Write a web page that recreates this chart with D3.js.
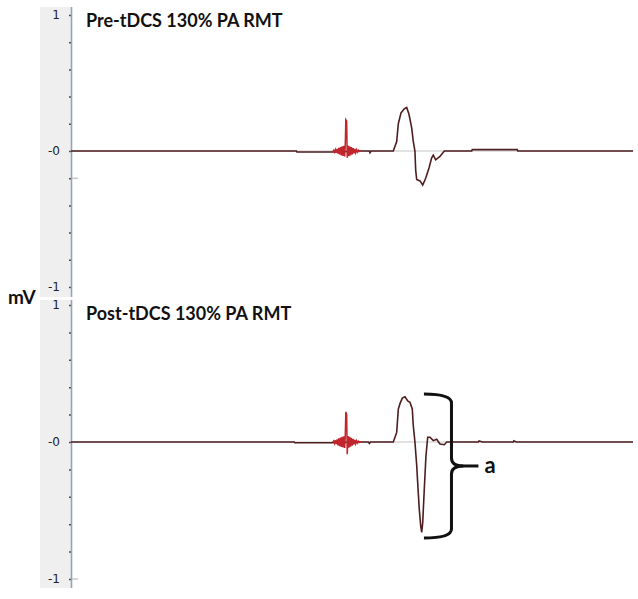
<!DOCTYPE html>
<html>
<head>
<meta charset="utf-8">
<script src="https://cdn.jsdelivr.net/npm/d3@7"></script>
<style>
  body { margin: 0; background: #fff; }
  svg { display: block; }
</style>
</head>
<body>
<script>
// MEP traces, pre / post tDCS
// time in ms (stimulus at 0), amplitude in mV

var panelTitles = ['Pre-tDCS 130% PA RMT', 'Post-tDCS 130% PA RMT'];
var tickValues = [-1, -0.8, -0.6, -0.4, -0.2, 0, 0.2, 0.4, 0.6, 0.8, 1];
var tickLabels = { '-1': '-1', '0': '-0', '1': '1' };

// stimulus artifact (fast ringing)
var artT = [-2.4, -2.25, -2.1, -1.95, -1.8, -1.65, -1.5, -1.35, -1.2, -1.05, -0.9, -0.75, -0.6, -0.45, -0.3, -0.2,
  -0.1, 0.05, 0.15, 0.3, 0.45, 0.6, 0.75, 0.9, 1.05, 1.2, 1.35, 1.5, 1.65, 1.8, 1.95, 2.1, 2.25, 2.4, 2.6];
var preArtMv = [0, 0.006, -0.008, 0.01, -0.013, 0.016, -0.02, 0.023, -0.026, 0.029, -0.032, 0.034, -0.036, 0.038, -0.04, 0.04,
  0.23, 0.22, -0.05, 0.04, -0.038, 0.035, -0.032, 0.028, -0.025, 0.021, -0.018, 0.015, -0.012, 0.009, -0.007, 0.005, -0.004, 0.003, 0];
var postArtMv = [0, 0.008, -0.01, 0.013, -0.016, 0.02, -0.024, 0.027, -0.03, 0.033, -0.036, 0.038, -0.04, 0.042, -0.044, 0.044,
  0.22, 0.2, -0.09, 0.044, -0.042, 0.038, -0.034, 0.03, -0.026, 0.022, -0.018, 0.015, -0.012, 0.009, -0.007, 0.005, -0.004, 0.003, 0];

// main traces
var preT = [-49, -8.9, -8.8, -2.4, 2.6, 4.1, 4.2, 4.4, 8.35, 8.95, 9.24, 9.72, 10.3, 10.73, 11.14, 11.62, 11.9, 12.2,
  12.33, 12.51, 13.1, 13.58, 14.11, 14.7, 15.18, 15.46, 15.89, 16.65, 17.42, 22.3, 22.4, 30.4, 30.5, 51];
var preMv = [0, 0, -0.007, -0.007, 0, 0, -0.012, 0, 0, 0.07, 0.2, 0.28, 0.31, 0.32, 0.27, 0.17, 0.07, 0,
  -0.14, -0.21, -0.22, -0.25, -0.2, -0.125, -0.05, -0.03, -0.065, -0.04, 0, 0, 0.01, 0.01, 0, 0];

var postT = [-49, -9.3, -9.2, -2.9, 2.4, 3.9, 4.1, 4.3, 8.35, 8.95, 9.24, 9.54, 9.95, 10.43, 10.91, 11.32, 11.73, 11.9,
  12.2, 12.51, 12.79, 12.97, 13.22, 13.4, 13.58, 13.86, 14.16, 14.47, 14.88, 15.46, 16.07, 16.65, 17.42, 17.85,
  23.5, 23.6, 24.2, 29.7, 29.8, 30.2, 51];
var postMv = [0, 0, -0.006, -0.006, 0, 0, -0.01, 0, 0, 0.07, 0.24, 0.28, 0.32, 0.33, 0.3, 0.29, 0.24, 0.12,
  0, -0.17, -0.37, -0.49, -0.61, -0.66, -0.59, -0.345, -0.1, 0.035, 0.035, 0.01, 0.02, -0.015, -0.02, 0,
  0, 0.008, 0, 0, 0.008, 0, 0];

// cursor marks right of the axis
var cursorMv = [-0.2, -1];

// peak-to-peak brace on the post trace
var braceMv = [0.35, -0.7];
var braceT = [13.8, 18.7, 20.8, 23.5]; // arm end, spine, nose, label line end
var braceLabel = 'a';

//Sizing things.
var width = 638, height = 599;
var axisX = 71, rightX = 633;

var svg = d3.select('body').append('svg')
  .attr('width', width)
  .attr('height', height);

var x = d3.scaleLinear().domain([-49, 51]).range([axisX, rightX]);

var panels = [
  { title: panelTitles[0], t: preT, mv: preMv, art: preArtMv, top: 15, bottom: 287, stripTop: 7, stripBottom: 297, titleY: 27, cursor: cursorMv[0] },
  { title: panelTitles[1], t: postT, mv: postMv, art: postArtMv, top: 305, bottom: 579, stripTop: 300, stripBottom: 588, titleY: 320, cursor: cursorMv[1] }
];

panels.forEach(function (p, i) {
  var y = d3.scaleLinear().domain([-1, 1]).range([p.bottom, p.top]);
  var g = svg.append('g').classed('panel_' + i, true);

  // gray strip behind axis
  g.append('rect')
    .attr('x', 40).attr('y', p.stripTop)
    .attr('width', axisX - 40).attr('height', p.stripBottom - p.stripTop)
    .attr('fill', '#efefef');

  // zero line
  g.append('line')
    .attr('x1', axisX).attr('x2', rightX)
    .attr('y1', y(0)).attr('y2', y(0))
    .attr('stroke', '#c4c4c4').attr('stroke-width', 1);

  // axis
  var axis = d3.axisLeft(y)
    .tickValues(tickValues)
    .tickSize(2)
    .tickSizeOuter(0)
    .tickPadding(9)
    .tickFormat(function (d) { var k = String(Math.round(d * 10) / 10); return tickLabels[k] || ''; });

  var ag = g.append('g')
    .attr('transform', 'translate(' + axisX + ',0)')
    .call(axis);
  ag.select('.domain').remove();
  ag.selectAll('.tick line').attr('stroke', '#444').attr('stroke-width', 1.5);
  ag.selectAll('.tick text')
    .style('font-family', 'DejaVu Sans')
    .style('font-size', '12px')
    .attr('fill', '#222');

  g.append('line')
    .attr('x1', axisX + 0.5).attr('x2', axisX + 0.5)
    .attr('y1', p.stripTop).attr('y2', p.stripBottom)
    .attr('stroke', '#98a2b4').attr('stroke-width', 1.6);

  g.append('line')
    .attr('x1', axisX + 1).attr('x2', axisX + 7)
    .attr('y1', y(p.cursor)).attr('y2', y(p.cursor))
    .attr('stroke', '#b0b0b0').attr('stroke-width', 1);

  // trace
  var line = d3.line()
    .x(function (d) { return x(d[0]); })
    .y(function (d) { return y(d[1]); });

  g.append('path')
    .datum(d3.zip(p.t, p.mv))
    .attr('d', line)
    .attr('fill', 'none')
    .attr('stroke', '#4e1d20')
    .attr('stroke-width', 1.6)
    .attr('stroke-linejoin', 'miter');

  g.append('path')
    .datum(d3.zip(artT, p.art))
    .attr('d', line)
    .attr('fill', 'none')
    .attr('stroke', '#c1262c')
    .attr('stroke-width', 1.5);

  g.append('text')
    .attr('x', 86).attr('y', p.titleY)
    .style('font-family', 'Lato')
    .style('font-weight', 'bold')
    .style('font-size', '18px')
    .attr('fill', '#111')
    .text(p.title);

  if (i === 1) {
    // brace marking the peak-to-peak amplitude
    var yt = y(braceMv[0]), yb = y(braceMv[1]), ym = (yt + yb) / 2;
    var x0 = x(braceT[0]), x1 = x(braceT[1]), xn = x(braceT[2]), xe = x(braceT[3]);
    var path = d3.path();
    path.moveTo(x0, yt);
    path.quadraticCurveTo(x1, yt, x1, yt + 9);
    path.lineTo(x1, ym - 8);
    path.quadraticCurveTo(x1, ym, xn, ym);
    path.quadraticCurveTo(x1, ym, x1, ym + 8);
    path.lineTo(x1, yb - 9);
    path.quadraticCurveTo(x1, yb, x0, yb);
    g.append('path')
      .attr('d', path.toString())
      .attr('fill', 'none')
      .attr('stroke', '#111')
      .attr('stroke-width', 3);
    g.append('line')
      .attr('x1', xn - 2).attr('x2', xe)
      .attr('y1', ym).attr('y2', ym)
      .attr('stroke', '#111').attr('stroke-width', 3);
    g.append('text')
      .attr('x', xe + 6).attr('y', ym + 7)
      .style('font-family', 'Lato')
      .style('font-weight', 'bold')
      .style('font-size', '22px')
      .attr('fill', '#111')
      .text(braceLabel);
  }
});

// shared unit label
svg.append('rect')
  .attr('x', 0).attr('y', 297).attr('width', 71).attr('height', 3)
  .attr('fill', '#fff');
svg.append('text')
  .attr('x', 8).attr('y', 304)
  .style('font-family', 'Lato')
  .style('font-weight', 'bold')
  .style('font-size', '19px')
  .attr('fill', '#111')
  .text('mV');
</script>
</body>
</html>
